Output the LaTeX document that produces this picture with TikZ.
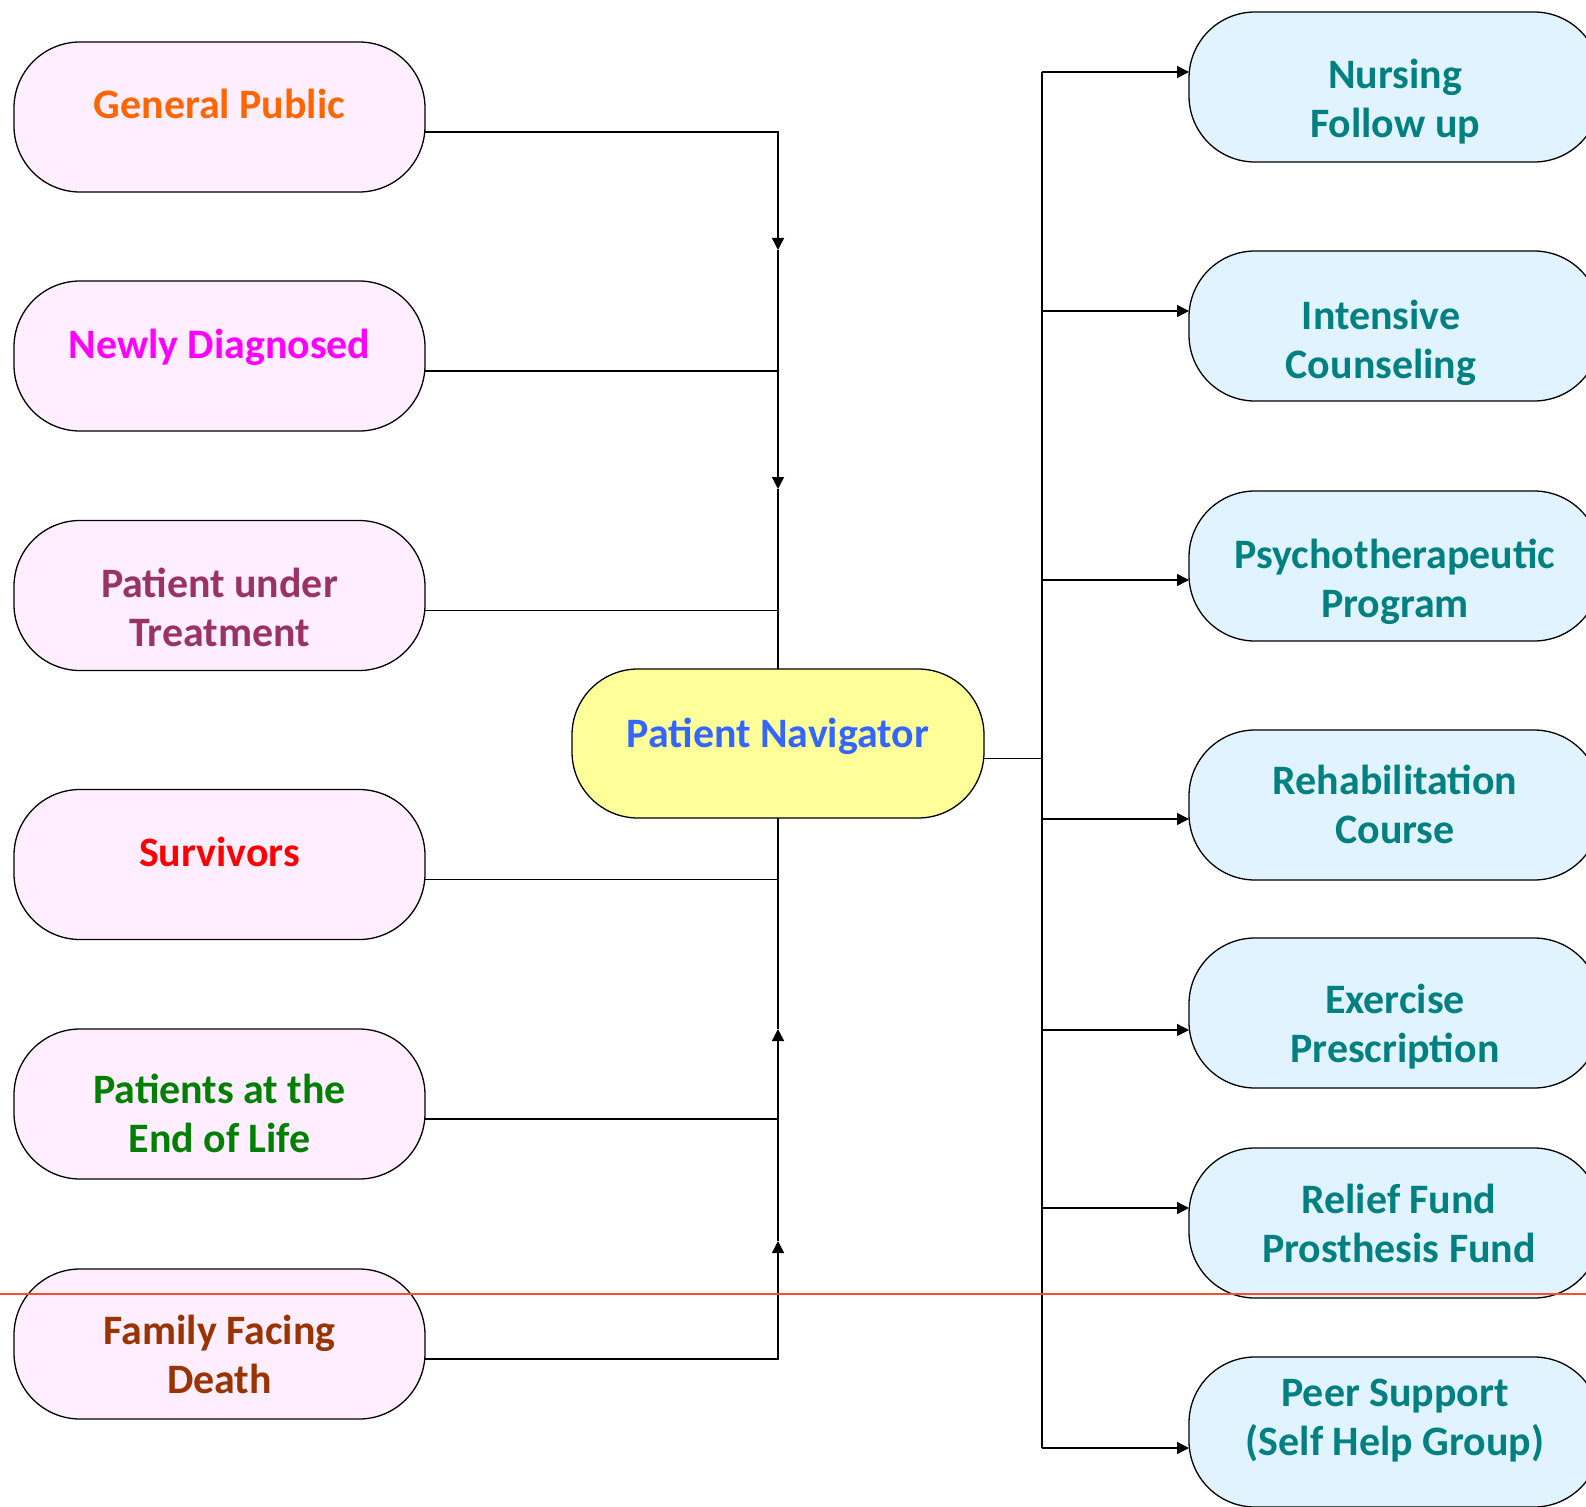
\documentclass[tikz,border=0pt]{standalone}
\usepackage{fontspec}
\setmainfont{Carlito}
\usetikzlibrary{arrows.meta}
\definecolor{pinkfill}{HTML}{FFEEFF}
\definecolor{bluefill}{HTML}{E1F3FE}
\definecolor{navfill}{HTML}{FFFF99}
\definecolor{tealtxt}{HTML}{008080}
\definecolor{navtxt}{HTML}{3366FF}
\definecolor{orangetxt}{HTML}{FF6600}
\definecolor{magentatxt}{HTML}{FF00FF}
\definecolor{plumtxt}{HTML}{993366}
\definecolor{redtxt}{HTML}{FF0000}
\definecolor{greentxt}{HTML}{008000}
\definecolor{browntxt}{HTML}{993300}
\definecolor{redrule}{HTML}{F25030}
\tikzset{
  pill/.style={draw=black, line width=1.3pt, rectangle, rounded corners=66pt,
    minimum width=411pt, minimum height=150pt, inner sep=0pt, outer sep=0pt},
  leftbox/.style={pill, fill=pinkfill},
  rightbox/.style={pill, fill=bluefill},
  navbox/.style={pill, fill=navfill, minimum width=412pt, minimum height=149pt},
  lbl/.style={anchor=base, inner sep=0pt, text width=500pt, align=flush center,
    font=\fontsize{41.9}{49}\selectfont\bfseries},
  rlbl/.style={lbl, text=tealtxt},
  conn/.style={draw=black, line width=1.4pt},
  arr/.style={conn, -{Triangle[length=12pt,width=12pt]}}
}
\begin{document}
\begin{tikzpicture}[x=1pt,y=-1pt]
\useasboundingbox (0,0) rectangle (1586,1506);
\clip (0,0) rectangle (1586,1506);

% left boxes
\node[leftbox] (gp) at (219.5,117) {};
\node[leftbox] (nd) at (219.5,356) {};
\node[leftbox] (pt) at (219.5,595.5) {};
\node[leftbox] (sv) at (219.5,864.5) {};
\node[leftbox] (el) at (219.5,1104) {};
\node[leftbox] (ff) at (219.5,1344) {};
% centre
\node[navbox] (nav) at (778,743.5) {};
% right boxes
\node[rightbox] (nf) at (1394.5,87) {};
\node[rightbox] (ic) at (1394.5,326) {};
\node[rightbox] (pp) at (1394.5,566) {};
\node[rightbox] (rc) at (1394.5,805) {};
\node[rightbox] (ep) at (1394.5,1013) {};
\node[rightbox] (rf) at (1394.5,1223) {};
\node[rightbox] (ps) at (1394.5,1432) {};

% labels
\node[lbl, text=orangetxt] (gpT) at (219.5,118.5) {General Public};
\node[lbl, text=magentatxt] (ndT) at (219.5,358.5) {Newly Diagnosed};
\node[lbl, text=plumtxt] (ptT) at (219.5,597.5) {Patient under\\Treatment};
\node[lbl, text=redtxt] (svT) at (219.5,866.5) {Survivors};
\node[lbl, text=greentxt] (elT) at (219.5,1103.5) {Patients at the\\End of Life};
\node[lbl, text=browntxt] (ffT) at (219.5,1344.5) {Family Facing\\Death};
\node[lbl, text=navtxt] (navT) at (778,747.5) {Patient Navigator};
\node[rlbl] (nfT) at (1395,89) {Nursing\\Follow up};
\node[rlbl] (icT) at (1381,329.5) {Intensive\\Counseling};
\node[rlbl] (ppT) at (1395,568.5) {Psychotherapeutic\\Program};
\node[rlbl] (rcT) at (1395,794) {Rehabilitation\\Course};
\node[rlbl] (epT) at (1395,1013.5) {Exercise\\Prescription};
\node[rlbl] (rfT) at (1399,1213.5) {Relief Fund\\Prosthesis Fund};
\node[rlbl] (psT) at (1395,1406) {Peer Support\\(Self Help Group)};

% junction coordinates
\coordinate (dA) at (778,250);
\coordinate (dB) at (778,489);
\coordinate (uA) at (778,1241);
\coordinate (uB) at (778,1029);
\coordinate (bus) at (1042,758.5);
\coordinate (busT) at (1042,72);
\coordinate (busB) at (1042,1448);

% left-top connectors
\draw[arr] ([yshift=-15pt]gp.east) -| (dA);
\draw[arr] (dA) -- (dB);
\draw[conn] (dB) -- (nav.north);
\draw[conn] ([yshift=-15pt]nd.east) -- ([yshift=-15pt]nd.east -| nav.north);
\draw[conn] ([yshift=-15pt]pt.east) -- ([yshift=-15pt]pt.east -| nav.north);
% left-bottom connectors
\draw[arr] ([yshift=-15pt]ff.east) -| (uA);
\draw[arr] (uA) -- (uB);
\draw[conn] (uB) -- (nav.south);
\draw[conn] ([yshift=-15pt]sv.east) -- ([yshift=-15pt]sv.east -| nav.south);
\draw[conn] ([yshift=-15pt]el.east) -- ([yshift=-15pt]el.east -| nav.south);

% right connectors
\draw[conn] ([yshift=-15pt]nav.east) -- (bus);
\draw[conn] (busT) -- (busB);
\draw[arr] (busT) -- (busT -| nf.west);
\draw[arr] ([yshift=15pt]ic.west -| bus) -- ([yshift=15pt]ic.west);
\draw[arr] ([yshift=-14pt]pp.west -| bus) -- ([yshift=-14pt]pp.west);
\draw[arr] ([yshift=-14pt]rc.west -| bus) -- ([yshift=-14pt]rc.west);
\draw[arr] ([yshift=-17pt]ep.west -| bus) -- ([yshift=-17pt]ep.west);
\draw[arr] ([yshift=15pt]rf.west -| bus) -- ([yshift=15pt]rf.west);
\draw[arr] (busB) -- (busB -| ps.west);

% red rule
\draw[redrule, line width=1.5pt] (0,1294) -- (1586,1294);
\end{tikzpicture}
\end{document}
